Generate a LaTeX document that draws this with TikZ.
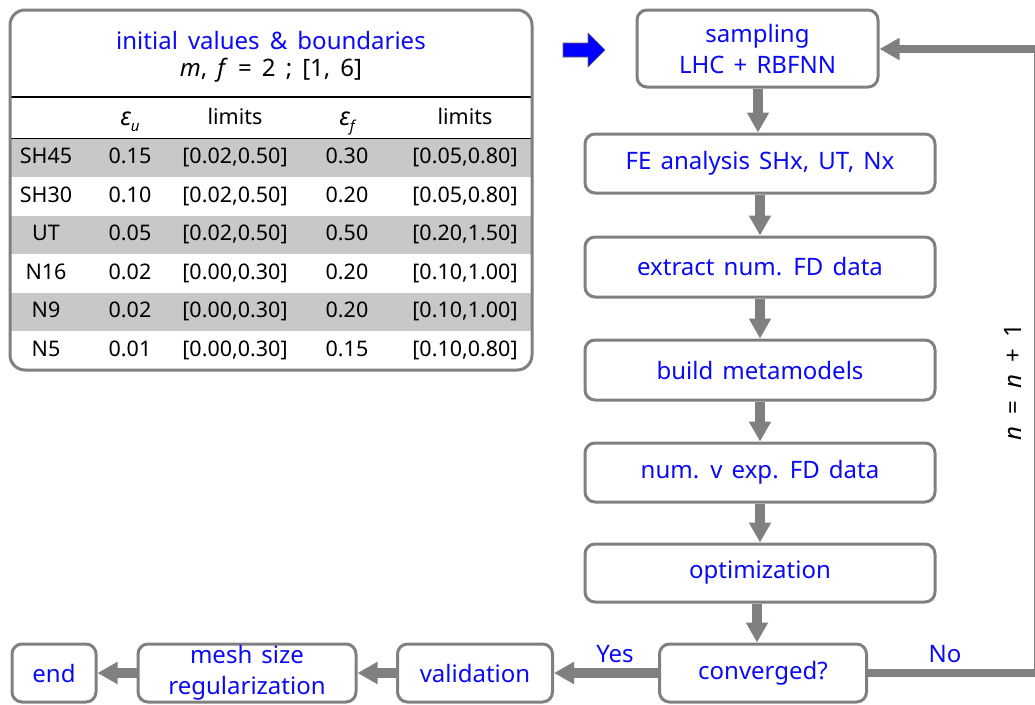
\documentclass[tikz,border=0pt]{standalone}
\usepackage{fontspec}
\setmainfont{Noto Sans}
\usetikzlibrary{arrows.meta}
\definecolor{boxgray}{RGB}{128,128,128}
\definecolor{rowgray}{RGB}{200,200,200}
\definecolor{txtblue}{RGB}{10,10,245}
\newcommand{\epsu}[1]{{\fontsize{25}{28}\selectfont\itshape ε}\raisebox{-6pt}{\fontsize{15}{15}\selectfont\itshape #1}}
\newcommand{\boxfont}{\fontsize{24}{31}\selectfont\spaceskip=0.38em plus 0.1em\relax}
\newcommand{\lblfont}{\fontsize{24}{28}\selectfont\spaceskip=0.42em plus 0.1em\relax}
\newcommand{\incfont}{\fontsize{24}{28}\selectfont\spaceskip=0.5em plus 0.1em\relax}
\begin{document}
\begin{tikzpicture}[x=1pt,y=-1pt,
  fbox/.style={draw=boxgray, line width=3pt, rounded corners=10pt, fill=white,
    font=\boxfont, text=txtblue, align=center, inner sep=0pt},
  flow/.style={draw=boxgray, line width=10pt, -{Triangle[width=21pt,length=20pt]}},
  cell/.style={font=\fontsize{21.5}{24}\selectfont, text height=16pt, text depth=5pt, inner sep=0pt},
  lbl/.style={font=\lblfont, text=txtblue, inner sep=0pt}
]
\useasboundingbox (0,0) rectangle (1035,704);

% ---------- table ----------
\fill[rowgray] (11,139) rectangle (531,177);
\fill[rowgray] (11,216) rectangle (531,254);
\fill[rowgray] (11,293) rectangle (531,331);
\draw[black, line width=1.5pt] (10,97) -- (532,97);
\draw[black, line width=1.5pt] (10,138.5) -- (532,138.5);
\draw[boxgray, line width=3pt, rounded corners=15pt] (10,10) rectangle (532,370);

\node[lbl] (title) at (271,40) {initial values \& boundaries};
\node[cell, font=\lblfont] (params) at (271,71) {\textit{m}, \textit{f} = 2 ; [1, 6]};

\node[cell] (h2) at (130,120) {\epsu{u}};
\node[cell] (h3) at (235,119) {limits};
\node[cell] (h4) at (347,120) {\epsu{f}};
\node[cell] (h5) at (465,119) {limits};

\foreach \y/\n/\a/\b/\c/\d [count=\i] in {
  158/SH45/0.15/{[0.02,0.50]}/0.30/{[0.05,0.80]},
  196.5/SH30/0.10/{[0.02,0.50]}/0.20/{[0.05,0.80]},
  235/UT/0.05/{[0.02,0.50]}/0.50/{[0.20,1.50]},
  273.5/N16/0.02/{[0.00,0.30]}/0.20/{[0.10,1.00]},
  312/N9/0.02/{[0.00,0.30]}/0.20/{[0.10,1.00]},
  350.5/N5/0.01/{[0.00,0.30]}/0.15/{[0.10,0.80]}}{
  \node[cell] (r\i c1) at (46,\y) {\n};
  \node[cell] (r\i c2) at (130,\y) {\a};
  \node[cell] (r\i c3) at (235,\y) {\b};
  \node[cell] (r\i c4) at (347,\y) {\c};
  \node[cell] (r\i c5) at (465,\y) {\d};
}

% ---------- blue start arrow ----------
\filldraw[fill=blue, draw=black!60, line width=0.6pt]
  (563,43) -- (588,43) -- (588,33) -- (605,50) -- (588,67) -- (588,57) -- (563,57) -- cycle;

% ---------- flowchart boxes ----------
\node[fbox, minimum width=241pt, minimum height=77pt] (samp) at (757.5,48.5) {sampling\\LHC + RBFNN};
\node[fbox, minimum width=350pt, minimum height=59pt] (fe) at (760,163.5) {FE analysis SHx, UT, Nx};
\node[fbox, minimum width=350pt, minimum height=60pt] (ext) at (760,267) {extract num. FD data};
\node[fbox, minimum width=350pt, minimum height=60pt] (build) at (760,370) {build metamodels};
\node[fbox, minimum width=350pt, minimum height=59pt] (numexp) at (760,472.5) {num. v exp. FD data};
\node[fbox, minimum width=350pt, minimum height=58pt] (opt) at (760,573) {optimization};
\node[fbox, minimum width=207pt, minimum height=58pt] (conv) at (763,673) {converged?};
\node[fbox, minimum width=155pt, minimum height=58pt] (valid) at (475,673) {validation};
\node[fbox, minimum width=218pt, minimum height=58pt] (mesh) at (247,673) {mesh size\\regularization};
\node[fbox, minimum width=84pt, minimum height=58pt] (end) at (54,673) {end};

% ---------- connectors ----------
\draw[flow] ([xshift=0.5pt]samp.south) -- ([xshift=0.5pt]samp.south |- fe.north);
\draw[flow] (fe.south) -- (ext.north);
\draw[flow] (ext.south) -- (build.north);
\draw[flow] (build.south) -- (numexp.north);
\draw[flow] (numexp.south) -- (opt.north);
\draw[flow] ([xshift=-3pt]opt.south) -- ([xshift=-3pt]opt.south |- conv.north);
\draw[flow] (conv.west) -- (valid.east);
\draw[flow] (valid.west) -- (mesh.east);
\draw[flow] (mesh.west) -- (end.east);

\coordinate (c1) at (1037.5,673);
\coordinate (c2) at (1037.5,49);
\draw[draw=boxgray, line width=8pt, -{Triangle[width=21pt,length=20pt]}]
  (conv.east) -- (c1) -- (c2) -- (samp.east |- c2);

% ---------- labels ----------
\node[lbl] (yes) at (615,654) {Yes};
\node[lbl] (no) at (945,654) {No};
\node[font=\incfont, rotate=90, inner sep=0pt] (inc) at (1013,382) {\textit{n} = \textit{n} + 1};
\end{tikzpicture}
\end{document}
